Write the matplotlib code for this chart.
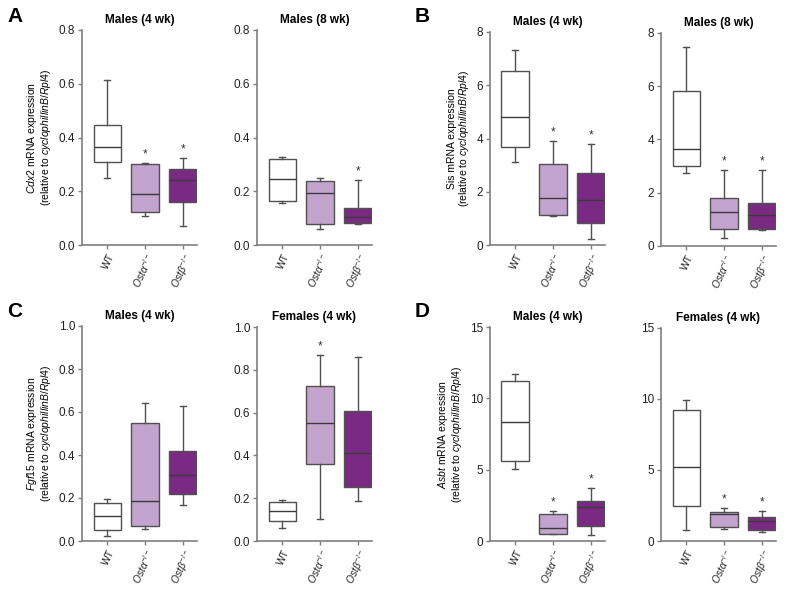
import numpy as np
import matplotlib
matplotlib.use("Agg")
import matplotlib.pyplot as plt

plt.rcParams['font.family'] = ['Liberation Sans', 'DejaVu Sans']
plt.rcParams['mathtext.fontset'] = 'custom'
plt.rcParams['mathtext.rm'] = 'Liberation Sans'
plt.rcParams['mathtext.it'] = 'Liberation Sans:italic'
plt.rcParams['mathtext.bf'] = 'Liberation Sans:bold'

# groups and colours
groups = ['WT', r'$\it{Ost\alpha}^{-/-}$', r'$\it{Ost\beta}^{-/-}$']
box_colors = ['#ffffff', '#c3a4ce', '#7b2a84']

# box stats per group: [whisker low, q1, median, q3, whisker high]
cdx2_m4 = [[0.248, 0.308, 0.363, 0.447, 0.614],
           [0.108, 0.124, 0.189, 0.301, 0.304],
           [0.071, 0.159, 0.242, 0.283, 0.322]]
cdx2_m8 = [[0.157, 0.163, 0.247, 0.319, 0.326],
           [0.058, 0.078, 0.192, 0.237, 0.250],
           [0.080, 0.083, 0.105, 0.136, 0.241]]
sis_m4 = [[3.10, 3.69, 4.79, 6.54, 7.34],
          [1.09, 1.13, 1.75, 3.03, 3.90],
          [0.21, 0.84, 1.69, 2.69, 3.81]]
sis_m8 = [[2.75, 3.00, 3.63, 5.83, 7.46],
          [0.30, 0.64, 1.26, 1.81, 2.84],
          [0.59, 0.62, 1.16, 1.61, 2.84]]
fgf15_m4 = [[0.023, 0.050, 0.115, 0.177, 0.197],
            [0.057, 0.068, 0.186, 0.551, 0.640],
            [0.169, 0.217, 0.306, 0.418, 0.630]]
fgf15_f4 = [[0.062, 0.095, 0.140, 0.182, 0.190],
            [0.104, 0.361, 0.553, 0.724, 0.871],
            [0.187, 0.252, 0.410, 0.606, 0.861]]
asbt_m4 = [[5.06, 5.62, 8.32, 11.23, 11.69],
           [0.47, 0.52, 0.94, 1.92, 2.11],
           [0.45, 1.03, 2.41, 2.79, 3.68]]
asbt_f4 = [[0.80, 2.45, 5.20, 9.23, 9.96],
           [0.82, 0.97, 1.88, 2.05, 2.33],
           [0.61, 0.80, 1.44, 1.72, 2.12]]

# significance marks
stars_cdx2_m4 = [False, True, True]
stars_cdx2_m8 = [False, False, True]
stars_sis_m4 = [False, True, True]
stars_sis_m8 = [False, True, True]
stars_fgf15_m4 = [False, False, False]
stars_fgf15_f4 = [False, True, False]
stars_asbt_m4 = [False, True, True]
stars_asbt_f4 = [False, True, True]

W, H = 787, 590
fig = plt.figure(figsize=(W / 100, H / 100), dpi=100)

spine_col = '#7f7f7f'
edge_col = '#505050'


def add_panel(left, top, bottom, data, stars, title, ymax, yticks, fmt,
              ylabel=None):
    width = 115
    ax = fig.add_axes([left / W, 1 - bottom / H, width / W, (bottom - top) / H])
    stats = []
    for lo, q1, med, q3, hi in data:
        stats.append(dict(whislo=lo, q1=q1, med=med, q3=q3, whishi=hi, fliers=[]))
    bp = ax.bxp(stats, positions=[0, 1, 2], widths=0.73, patch_artist=True,
                showfliers=False,
                boxprops=dict(edgecolor=edge_col, linewidth=1.0),
                medianprops=dict(color='#3a3a3a', linewidth=1.0),
                whiskerprops=dict(color=edge_col, linewidth=1.0),
                capprops=dict(color=edge_col, linewidth=1.0),
                capwidths=0.15)
    for patch, c in zip(bp['boxes'], box_colors):
        patch.set_facecolor(c)
    for i, (row, s) in enumerate(zip(data, stars)):
        if s:
            ax.text(i, row[4] + ymax * 0.012, '*', ha='center', va='bottom',
                    fontsize=8.5, color='#333333')
    ax.set_xlim(-0.67, 2.38)
    ax.set_ylim(0, ymax)
    ax.set_yticks(yticks)
    ax.set_yticklabels([fmt.format(v) for v in yticks])
    ax.set_xticks([0, 1, 2])
    ax.set_xticklabels(groups, rotation=65, ha='right', rotation_mode='anchor',
                       fontsize=7.5)
    for sp in ['top', 'right']:
        ax.spines[sp].set_visible(False)
    for sp in ['left', 'bottom']:
        ax.spines[sp].set_color(spine_col)
        ax.spines[sp].set_linewidth(1.2)
    ax.tick_params(axis='y', colors=spine_col, labelcolor='#222222',
                   length=3, width=1.0, labelsize=8.5, pad=2)
    ax.tick_params(axis='x', colors=spine_col, labelcolor='#222222',
                   length=3, width=1.0, pad=2)
    ax.set_title(title, fontsize=8.5, fontweight='bold', pad=5)
    if ylabel:
        ax.set_ylabel(ylabel, fontsize=7.5, labelpad=4, linespacing=1.0)
    return ax


rel = '\n(relative to $\\it{cyclophillinB/Rpl4}$)'

add_panel(82, 30, 245, cdx2_m4, stars_cdx2_m4, 'Males (4 wk)', 0.8,
          [0, 0.2, 0.4, 0.6, 0.8], '{:.1f}',
          ylabel='$\\it{Cdx2}$ mRNA expression' + rel)
add_panel(257, 30, 245, cdx2_m8, stars_cdx2_m8, 'Males (8 wk)', 0.8,
          [0, 0.2, 0.4, 0.6, 0.8], '{:.1f}')
add_panel(490, 32, 245, sis_m4, stars_sis_m4, 'Males (4 wk)', 8,
          [0, 2, 4, 6, 8], '{:.0f}',
          ylabel='Sis mRNA expression' + rel)
add_panel(661, 33, 246, sis_m8, stars_sis_m8, 'Males (8 wk)', 8,
          [0, 2, 4, 6, 8], '{:.0f}')
add_panel(82, 326, 541, fgf15_m4, stars_fgf15_m4, 'Males (4 wk)', 1.0,
          [0, 0.2, 0.4, 0.6, 0.8, 1.0], '{:.1f}',
          ylabel='$\\it{Fgf15}$ mRNA expression' + rel)
add_panel(257, 327, 541, fgf15_f4, stars_fgf15_f4, 'Females (4 wk)', 1.0,
          [0, 0.2, 0.4, 0.6, 0.8, 1.0], '{:.1f}')
add_panel(490, 327, 541, asbt_m4, stars_asbt_m4, 'Males (4 wk)', 15,
          [0, 5, 10, 15], '{:.0f}',
          ylabel='$\\it{Asbt}$ mRNA expression' + rel)
add_panel(661, 328, 541, asbt_f4, stars_asbt_f4, 'Females (4 wk)', 15,
          [0, 5, 10, 15], '{:.0f}')

for letter, x, y in [('A', 7, 7), ('B', 415, 7), ('C', 7, 302), ('D', 415, 302)]:
    fig.text(x / W, 1 - y / H, letter, fontsize=15, fontweight='bold',
             ha='left', va='top')

fig.savefig('out.png', dpi=100)
